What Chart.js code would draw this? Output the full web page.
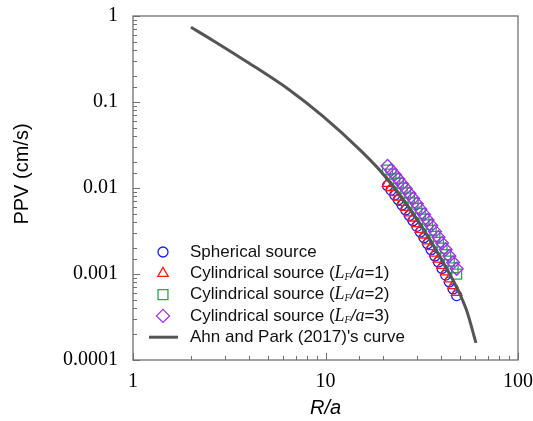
<!DOCTYPE html>
<html>
<head>
<meta charset="utf-8">
<title>PPV vs R/a</title>
<script src="https://cdn.jsdelivr.net/npm/chart.js@4.4.1/dist/chart.umd.min.js"></script>
<style>
  html, body { margin: 0; padding: 0; background: #fff; }
  #wrap { position: relative; width: 533px; height: 421px; }
</style>
</head>
<body>
<div id="wrap"><canvas id="ppvChart"></canvas></div>
<script>
// Scaled distance R/a shared by the four model series
const rOverA = [21.0, 21.9, 22.9, 23.9, 25.0, 26.1, 27.3, 28.5, 29.8, 31.1,
                32.5, 33.9, 35.4, 37.0, 38.6, 40.3, 42.1, 44.0, 46.0, 48.0];

// PPV (cm/s)
const sphericalPPV = [0.01063, 0.00945, 0.00829, 0.00731, 0.00634, 0.00555, 0.00479, 0.00417, 0.00358, 0.00308,
                      0.00264, 0.00225, 0.00192, 0.00162, 0.00138, 0.00116, 0.000971, 0.000809, 0.000671, 0.000561];
const cyl1PPV = [0.01134, 0.01008, 0.00884, 0.00782, 0.00680, 0.00595, 0.00513, 0.00448, 0.00385, 0.00331,
                 0.00284, 0.00243, 0.00208, 0.00175, 0.00149, 0.00126, 0.00106, 0.000879, 0.000731, 0.000611];
const cyl2PPV = [0.01620, 0.01451, 0.01283, 0.01137, 0.00997, 0.00879, 0.00765, 0.00671, 0.00579, 0.00503,
                 0.00435, 0.00374, 0.00322, 0.00274, 0.00234, 0.00200, 0.00168, 0.00141, 0.00118, 0.000997];
const cyl3PPV = [0.01803, 0.01615, 0.01431, 0.01273, 0.01116, 0.00987, 0.00861, 0.00755, 0.00655, 0.00568,
                 0.00493, 0.00425, 0.00366, 0.00313, 0.00268, 0.00229, 0.00193, 0.00162, 0.00136, 0.00115];

// Ahn and Park (2017) curve
const curveR = [2, 2.6, 3.9, 6.5, 9.75, 15.1, 19.9, 30, 40, 48.2, 54, 60.5];
const curvePPV = [0.74, 0.52, 0.294, 0.138, 0.0675, 0.0277, 0.01455, 0.00425, 0.00148, 0.000687, 0.000381, 0.000158];

// Axis tick labels (decades only)
const xTickLabels = ['1', '10', '100'];
const yTickLabels = ['0.0001', '0.001', '0.01', '0.1', '1'];

const SANS = "Arial, 'Liberation Sans', sans-serif";
const SERIF = "'Times New Roman', 'Liberation Serif', serif";
const LINE_GREY = '#555555';

const markers = [
  { name: 'Spherical source', data: sphericalPPV, style: 'circle', radius: 5, color: '#1a1aff' },
  { name: 'Cylindrical source (LF/a=1)', data: cyl1PPV, style: 'triangle', radius: 6, color: '#ff1a1a' },
  { name: 'Cylindrical source (LF/a=2)', data: cyl2PPV, style: 'rect', radius: 7, color: '#22a84e' },
  { name: 'Cylindrical source (LF/a=3)', data: cyl3PPV, style: 'rectRot', radius: 6.5, color: '#a030e8' }
];

// Legend rows: text pieces [text, font, baseline shift]
const legendRows = [
  [['Spherical source', '17px ' + SANS, 0]],
  [['Cylindrical source (', '17px ' + SANS, 0], ['L', 'italic 18px ' + SERIF, 0], ['F', 'italic 10px ' + SERIF, 4],
   ['/', 'italic 17px ' + SANS, 0], ['a', 'italic 18px ' + SERIF, 0], ['=1)', '17px ' + SANS, 0]],
  [['Cylindrical source (', '17px ' + SANS, 0], ['L', 'italic 18px ' + SERIF, 0], ['F', 'italic 10px ' + SERIF, 4],
   ['/', 'italic 17px ' + SANS, 0], ['a', 'italic 18px ' + SERIF, 0], ['=2)', '17px ' + SANS, 0]],
  [['Cylindrical source (', '17px ' + SANS, 0], ['L', 'italic 18px ' + SERIF, 0], ['F', 'italic 10px ' + SERIF, 4],
   ['/', 'italic 17px ' + SANS, 0], ['a', 'italic 18px ' + SERIF, 0], ['=3)', '17px ' + SANS, 0]],
  [["Ahn and Park (2017)'s curve", '17px ' + SANS, 0]]
];

function isDecade(v) {
  const l = Math.log10(v);
  return Math.abs(l - Math.round(l)) < 1e-6;
}

function drawMarker(ctx, style, r, x, y) {
  ctx.beginPath();
  if (style === 'circle') {
    ctx.arc(x, y, r, 0, Math.PI * 2);
  } else if (style === 'triangle') {
    for (let k = 0; k < 3; k++) {
      const a = k * 2 * Math.PI / 3;
      const px = x + Math.sin(a) * r, py = y - Math.cos(a) * r;
      if (k === 0) ctx.moveTo(px, py); else ctx.lineTo(px, py);
    }
  } else if (style === 'rect') {
    const s = Math.SQRT1_2 * r;
    ctx.rect(x - s, y - s, 2 * s, 2 * s);
  } else {
    ctx.moveTo(x - r, y); ctx.lineTo(x, y - r); ctx.lineTo(x + r, y); ctx.lineTo(x, y + r);
  }
  ctx.closePath();
  ctx.stroke();
}

// Frame, inward ticks, y title and legend
const decorPlugin = {
  id: 'decor',
  afterDraw(chart) {
    const ctx = chart.ctx;
    const area = chart.chartArea;
    const xs = chart.scales.x;
    const ys = chart.scales.y;
    ctx.save();

    ctx.strokeStyle = '#707070';
    ctx.lineWidth = 1;
    ys.ticks.forEach(t => {
      const y = Math.round(ys.getPixelForValue(t.value)) + 0.5;
      const len = isDecade(t.value) ? 7 : 4;
      ctx.beginPath(); ctx.moveTo(area.left, y); ctx.lineTo(area.left + len, y); ctx.stroke();
    });
    xs.ticks.forEach(t => {
      const x = Math.round(xs.getPixelForValue(t.value)) + 0.5;
      const len = isDecade(t.value) ? 7 : 4;
      ctx.beginPath(); ctx.moveTo(x, area.bottom); ctx.lineTo(x, area.bottom - len); ctx.stroke();
    });
    ctx.lineWidth = 1.3;
    ctx.strokeRect(area.left, area.top, area.right - area.left, area.bottom - area.top);

    // y axis title
    ctx.fillStyle = '#000';
    ctx.font = '20px ' + SANS;
    ctx.textAlign = 'center';
    ctx.textBaseline = 'middle';
    ctx.translate(22, 174);
    ctx.rotate(-Math.PI / 2);
    ctx.fillText('PPV (cm/s)', 0, 0);
    ctx.setTransform(1, 0, 0, 1, 0, 0);

    // legend
    const x0 = 163, textX = 190, y0 = 252, dy = 21.3;
    ctx.textAlign = 'left';
    ctx.textBaseline = 'middle';
    legendRows.forEach((row, i) => {
      const y = y0 + i * dy;
      if (i < markers.length) {
        ctx.strokeStyle = markers[i].color;
        ctx.lineWidth = 1.3;
        drawMarker(ctx, markers[i].style, markers[i].radius, x0, y);
      } else {
        ctx.strokeStyle = LINE_GREY;
        ctx.lineWidth = 3;
        ctx.beginPath(); ctx.moveTo(149, y); ctx.lineTo(178, y); ctx.stroke();
      }
      let x = textX;
      ctx.fillStyle = '#111';
      row.forEach(([txt, font, shift]) => {
        ctx.font = font;
        ctx.fillText(txt, x, y + shift);
        x += ctx.measureText(txt).width;
      });
    });
    ctx.restore();
  }
};

const datasets = [{
  label: "Ahn and Park (2017)'s curve",
  data: curveR.map((r, i) => ({ x: r, y: curvePPV[i] })),
  showLine: true,
  borderColor: LINE_GREY,
  borderWidth: 3,
  pointRadius: 0,
  cubicInterpolationMode: 'monotone',
  order: 0
}];
markers.forEach((m, k) => {
  datasets.push({
    label: m.name,
    data: rOverA.map((r, i) => ({ x: r, y: m.data[i] })),
    pointStyle: m.style,
    pointRadius: m.radius,
    pointBorderWidth: 1.3,
    pointBorderColor: m.color,
    pointBackgroundColor: 'rgba(0,0,0,0)',
    showLine: false,
    order: 4 - k
  });
});

new Chart(document.getElementById('ppvChart'), {
  type: 'scatter',
  data: { datasets: datasets },
  options: {
    responsive: true,
    maintainAspectRatio: false,
    animation: false,
    layout: { padding: { top: 16, right: 15, bottom: 0, left: 0 } },
    plugins: { legend: { display: false }, tooltip: { enabled: false } },
    scales: {
      x: {
        type: 'logarithmic',
        min: 1,
        max: 100,
        grid: { display: false, drawTicks: false },
        border: { display: false },
        ticks: {
          autoSkip: false,
          maxRotation: 0,
          padding: 10,
          color: '#000',
          font: { family: SERIF, size: 20 },
          callback: v => isDecade(v) ? xTickLabels[Math.round(Math.log10(v))] : ''
        },
        title: {
          display: true,
          text: 'R/a',
          color: '#000',
          font: { family: SANS, size: 20, style: 'italic' },
          padding: { top: 0, bottom: 1 }
        },
        afterFit(scale) { scale.height = 61; scale.paddingLeft = 0; scale.paddingRight = 0; }
      },
      y: {
        type: 'logarithmic',
        min: 0.0001,
        max: 1,
        grid: { display: false, drawTicks: false },
        border: { display: false },
        ticks: {
          autoSkip: false,
          padding: 15,
          color: '#000',
          font: { family: SERIF, size: 20 },
          callback: v => isDecade(v) ? yTickLabels[Math.round(Math.log10(v)) + 4] : ''
        },
        afterFit(scale) { scale.width = 133; scale.paddingTop = 0; scale.paddingBottom = 0; }
      }
    }
  },
  plugins: [decorPlugin]
});
</script>
</body>
</html>
